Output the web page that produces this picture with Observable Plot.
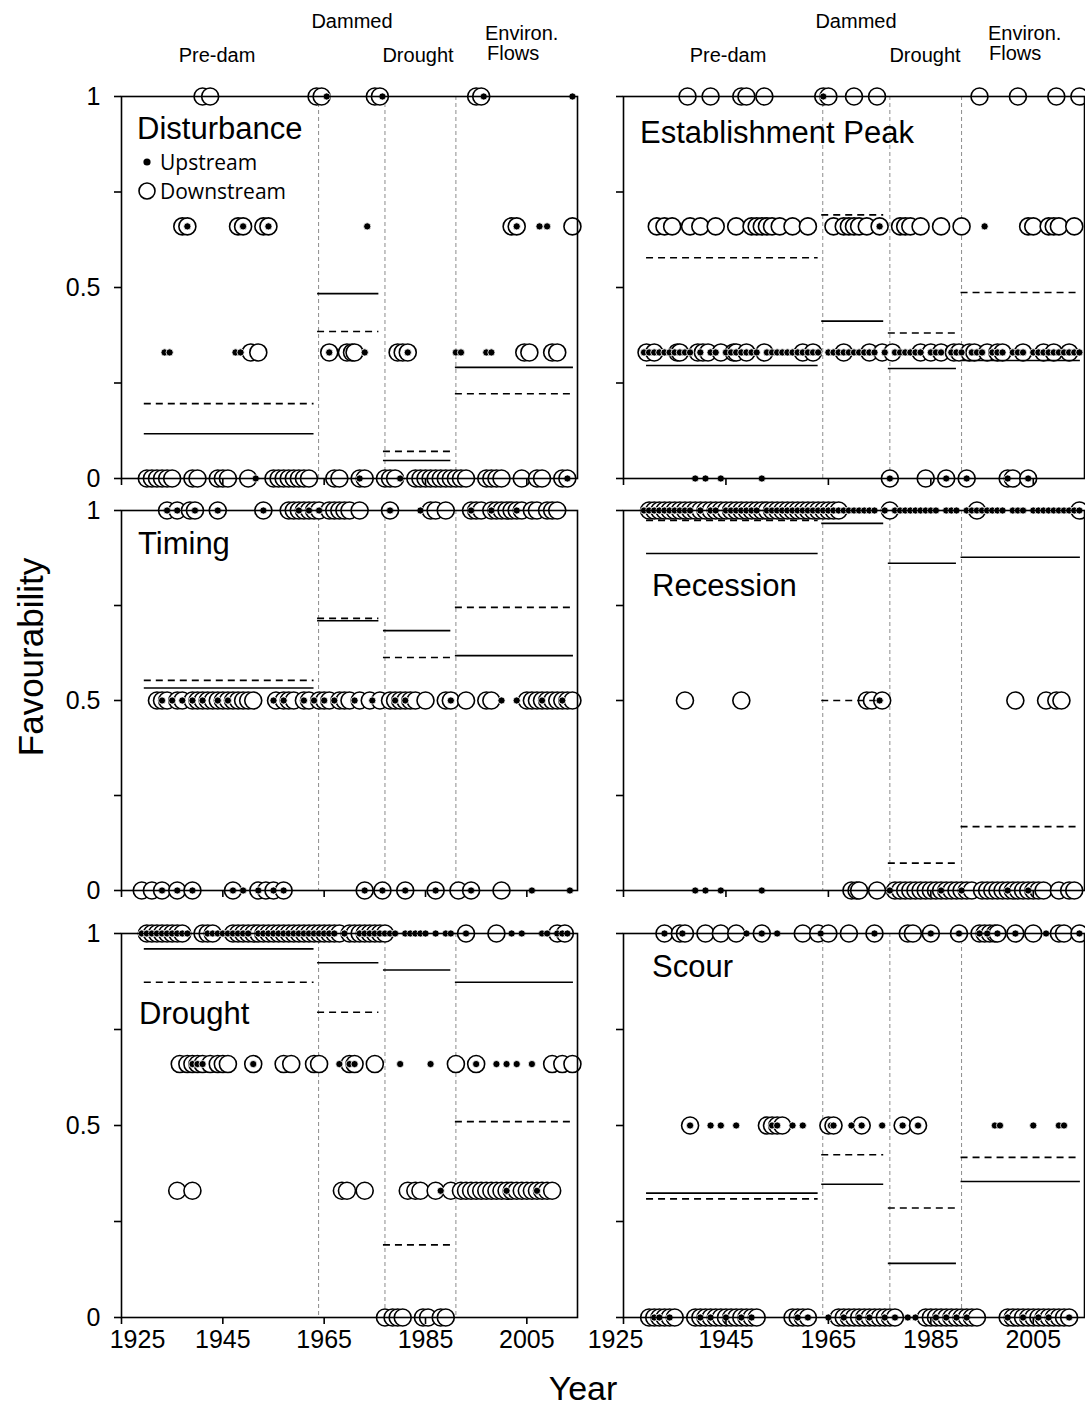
<!DOCTYPE html>
<html><head><meta charset="utf-8">
<script src="https://cdn.jsdelivr.net/npm/d3@7"></script>
<script src="https://cdn.jsdelivr.net/npm/@observablehq/plot@0.6"></script>
<style>
body{margin:0;background:#fff;}
#chart{position:relative;width:1085px;height:1407px;font-family:Arial,"Liberation Sans",sans-serif;overflow:hidden;background:#fff;}
.lbl{position:absolute;white-space:nowrap;color:#000;line-height:1;}
.c{transform:translate(-50%,-50%);}
.l{transform:translate(0,-50%);}
</style></head><body><div id="chart"></div>
<script>
// ---------- axes / periods ----------
const xDomain = [1925, 2015];
const xTicks = [1925, 1945, 1965, 1985, 2005];
const yTicks = [0, 0.25, 0.5, 0.75, 1];
const yTickLabels = ["0", "", "0.5", "", "1"];
const boundaries = [1963.9, 1977, 1991];
const periodStart = [1929.5, 1963.7, 1976.7, 1990.9];
const periodEnd = [1963, 1975.8, 1990, 2014.2];

// ---------- Disturbance ----------
const disturbanceDown = [
  [1, [1941, 1942.5, 1963.5, 1964.5, 1975, 1976, 1995, 1996]],
  [0.66, [1937, 1938, 1948, 1949, 1953, 1954, 2002, 2003, 2014]],
  [0.33, [1950.5, 1952, 1966, 1969.5, 1970.5, 1971, 1979.5, 1980.5, 1981.5, 2004.5, 2005.5, 2010, 2011]],
  [0, [1930, 1931, 1932, 1933, 1934, 1935, 1939, 1940, 1944, 1945, 1946, 1950, 1955, 1956, 1957, 1958, 1959, 1960, 1961, 1962, 1967, 1968, 1972, 1973, 1977, 1978, 1979, 1983, 1984, 1985, 1986, 1987, 1988, 1989, 1990, 1991, 1992, 1993, 1997, 1998, 1999, 2000, 2004, 2007, 2008, 2012, 2013]]
];
const disturbanceUp = [
  [1, [1965.5, 1976.5, 1996.5, 2014]],
  [0.66, [1938, 1949, 1954, 1973.5, 2003, 2007.5, 2009]],
  [0.33, [1933.5, 1934.5, 1947.5, 1948.5, 1966, 1973, 1981.5, 1991, 1992, 1997, 1998]],
  [0, [1951.5, 1972, 1980, 2013]]
];
const disturbanceMeanUp = [0.117, 0.484, 0.047, 0.291];
const disturbanceMeanDown = [0.196, 0.385, 0.071, 0.222];

// ---------- Establishment Peak ----------
const establishmentDown = [
  [1, [1937.5, 1942, 1948, 1949, 1952.5, 1964, 1965, 1970, 1974.5, 1994.5, 2002, 2009.5, 2014]],
  [0.66, [1931.5, 1933, 1934.5, 1938, 1940, 1943, 1947, 1950, 1951, 1952, 1953, 1954, 1955.5, 1958, 1961, 1966, 1968, 1969, 1970, 1971, 1972.5, 1975, 1979, 1980, 1981, 1983, 1987, 1991, 2004, 2005, 2008, 2009, 2010, 2013]],
  [0.33, [1929.5, 1931, 1935.5, 1936, 1939.5, 1940.5, 1941.5, 1944, 1946.5, 1947, 1949, 1952.5, 1960, 1962, 1968, 1973, 1975.5, 1977.5, 1983, 1985, 1987, 1989.5, 1990.5, 1992.5, 1993.5, 1996, 1998, 1999, 2003, 2007, 2009, 2012]],
  [0, [1977, 1984, 1988, 1992, 2000, 2001, 2004]]
];
const establishmentUp = [
  [1, [1964]],
  [0.66, [1975, 1995.5]],
  [0.33, [1929, 1930, 1931, 1932, 1933, 1934, 1935, 1936, 1937, 1938, 1940, 1942, 1943, 1945, 1946, 1947, 1948, 1949, 1950, 1951, 1953, 1954, 1955, 1956, 1957, 1958, 1959, 1960, 1961, 1962, 1963, 1965, 1966, 1967, 1968, 1969, 1970, 1971, 1972, 1973, 1974, 1976, 1978, 1979, 1980, 1981, 1982, 1983, 1985, 1986, 1987, 1989, 1990, 1991, 1993, 1994, 1995, 1997, 1998, 1999, 2001, 2002, 2003, 2005, 2006, 2007, 2008, 2009, 2010, 2011, 2012, 2013, 2014]],
  [0, [1939, 1941, 1944, 1952, 1977, 1988, 1992, 2000, 2004]]
];
const establishmentMeanUp = [0.296, 0.412, 0.288, 0.309];
const establishmentMeanDown = [0.578, 0.69, 0.381, 0.487];

// ---------- Timing ----------
const timingDown = [
  [1, [1934, 1936, 1938.5, 1939.5, 1944, 1953, 1958, 1959, 1960, 1961, 1962, 1963, 1964, 1966, 1967, 1968, 1969, 1970, 1972, 1978, 1986, 1987, 1989, 1994, 1995, 1996, 1998, 1999, 2000, 2001, 2002, 2003, 2004, 2006, 2007, 2009, 2010, 2011]],
  [0.5, [1932, 1933, 1934, 1936, 1937, 1939, 1940, 1941, 1942, 1943, 1944, 1945, 1946, 1947, 1948, 1949, 1950, 1951, 1955.5, 1957, 1958, 1959, 1961, 1962, 1964, 1965, 1966, 1968, 1969, 1970, 1972, 1974, 1976, 1978, 1979, 1980, 1981, 1982, 1983, 1985, 1989, 1990, 1993, 1997, 1998, 2005, 2006, 2007, 2008, 2009, 2010, 2011, 2012, 2013, 2014]],
  [0, [1929, 1931, 1933, 1936, 1939, 1947, 1952, 1953.5, 1955, 1957, 1973, 1976.5, 1981, 1987, 1991.5, 1994, 2000]]
];
const timingUp = [
  [1, [1934, 1936, 1939.5, 1944, 1953, 1960, 1962, 1964, 1978, 1984, 1994, 1998, 2003]],
  [0.5, [1933, 1935, 1937, 1939, 1941, 1944, 1946, 1955, 1957, 1961, 1963, 1965, 1967, 1971, 1974.5, 1979, 1981, 1990, 2000, 2003, 2008, 2012]],
  [0, [1933, 1936, 1939, 1947, 1949, 1952, 1955, 1957, 1973, 1976.5, 1981, 1987, 1994, 2006, 2013.5]]
];
const timingMeanUp = [0.533, 0.71, 0.684, 0.618];
const timingMeanDown = [0.553, 0.716, 0.613, 0.745];

// ---------- Recession ----------
const recessionDown = [
  [1, [1930, 1931, 1932, 1933, 1934, 1935, 1936, 1937, 1938, 1939, 1940, 1941, 1942, 1943, 1944, 1945, 1946, 1947, 1948, 1949, 1950, 1951, 1952, 1953, 1954, 1955, 1956, 1957, 1958, 1959, 1960, 1961, 1962, 1963, 1964, 1965, 1966, 1967, 1977, 1994, 2014]],
  [0.5, [1937, 1948, 1972.5, 1973.5, 1975.5, 2001.5, 2007.5, 2009.5, 2010.5]],
  [0, [1969.5, 1970.5, 1971, 1974.5, 1978, 1979, 1980, 1981, 1982, 1983, 1984, 1985, 1986, 1987, 1988, 1989, 1990, 1991, 1992, 1993, 1995, 1996, 1997, 1998, 1999, 2000, 2001, 2002, 2003, 2004, 2005, 2006, 2007, 2010, 2012, 2013]]
];
const recessionUp = [
  [1, [1929, 1930, 1931, 1932, 1933, 1934, 1935, 1936, 1937, 1938, 1940, 1942, 1943, 1945, 1946, 1947, 1948, 1949, 1950, 1951, 1953, 1954, 1955, 1956, 1957, 1958, 1959, 1960, 1961, 1962, 1963, 1964, 1965, 1966, 1967, 1968, 1969, 1970, 1971, 1972, 1973, 1974, 1976, 1978, 1979, 1980, 1981, 1982, 1983, 1984, 1985, 1986, 1988, 1989, 1990, 1992, 1993, 1994, 1995, 1996, 1997, 1998, 1999, 2001, 2002, 2003, 2005, 2006, 2007, 2008, 2009, 2010, 2011, 2012, 2013, 2014]],
  [0.5, [1975]],
  [0, [1939, 1941, 1944, 1952, 1977, 1987, 1991, 2000, 2004]]
];
const recessionMeanUp = [0.887, 0.966, 0.861, 0.877];
const recessionMeanDown = [0.974, 0.5, 0.072, 0.168];

// ---------- Drought ----------
const droughtDown = [
  [1, [1930, 1931, 1932, 1933, 1934, 1935, 1936, 1937, 1941, 1942, 1943, 1947, 1948, 1949, 1950, 1951, 1952, 1953, 1954, 1955, 1956, 1957, 1958, 1959, 1960, 1961, 1962, 1963, 1964, 1965, 1966, 1967, 1968, 1970, 1971, 1972, 1973, 1974, 1975, 1976, 1977, 1993, 1999, 2011, 2012.5]],
  [0.66, [1936.5, 1938, 1939, 1940, 1941, 1942.5, 1944, 1945, 1946, 1951, 1957, 1958.5, 1963, 1964, 1970, 1971, 1975, 1991, 1995, 2010, 2012, 2014]],
  [0.33, [1936, 1939, 1968.5, 1969.5, 1973, 1981.5, 1983, 1984, 1987, 1990, 1992, 1993, 1994, 1995, 1996, 1997, 1998, 1999, 2000, 2001, 2002, 2003, 2004, 2005, 2006, 2007, 2008, 2009, 2010]],
  [0, [1977, 1978.5, 1979.5, 1980.5, 1984.5, 1985.5, 1988, 1989]]
];
const droughtUp = [
  [1, [1929, 1930, 1931, 1932, 1933, 1934, 1935, 1936, 1937, 1938, 1942, 1943, 1944, 1945, 1946, 1947, 1948, 1949, 1950, 1952, 1953, 1954, 1955, 1956, 1957, 1958, 1959, 1960, 1961, 1962, 1963, 1964, 1965, 1966, 1967, 1969, 1972, 1973, 1974, 1975, 1976, 1977, 1978, 1979, 1981, 1982, 1983, 1984, 1985, 1987, 1989, 1990, 1993, 2002, 2004, 2008, 2009, 2011, 2012, 2013]],
  [0.66, [1939, 1940, 1941, 1951, 1968, 1970, 1971, 1980, 1986, 1995, 1999, 2001, 2003, 2006]],
  [0.33, [1988, 2001, 2007]]
];
const droughtMeanUp = [0.96, 0.924, 0.905, 0.873];
const droughtMeanDown = [0.873, 0.795, 0.189, 0.51];

// ---------- Scour ----------
const scourDown = [
  [1, [1933, 1936, 1937, 1941, 1944, 1947, 1952, 1960, 1963, 1965, 1969, 1974, 1980.5, 1981.5, 1985, 1990.5, 1994.5, 1995.5, 1996.5, 1997.5, 1998, 2001.5, 2005, 2010, 2011, 2014]],
  [0.5, [1938, 1953, 1954, 1955, 1956, 1965, 1966, 1971.5, 1979.5, 1982.5]],
  [0, [1930, 1931, 1932, 1933, 1934, 1935, 1939, 1940, 1941, 1942, 1943, 1944, 1945, 1946, 1947, 1948, 1949, 1950, 1951, 1958, 1959, 1960, 1961, 1967, 1968, 1969, 1970, 1971, 1972, 1973, 1974, 1975, 1976, 1977, 1978, 1984, 1985, 1986, 1987, 1988, 1989, 1990, 1991, 1992, 1993, 1994, 2000, 2001, 2002, 2003, 2004, 2005, 2006, 2007, 2008, 2009, 2010, 2011, 2012]]
];
const scourUp = [
  [1, [1933, 1936.5, 1949, 1952, 1955, 1963.5, 1974, 1985, 1990.5, 1994.5, 1996, 1998, 2001.5, 2007.5, 2014]],
  [0.5, [1938, 1942, 1944, 1947, 1954, 1955, 1958, 1960, 1965.5, 1966, 1969.5, 1971.5, 1975.5, 1979.5, 1982.5, 1997.5, 1998.5, 2005, 2010, 2011]],
  [0, [1931, 1932, 1934, 1940, 1942, 1945, 1948, 1950, 1959, 1961, 1965, 1968, 1971, 1973, 1976, 1978, 1980.5, 1982, 1986, 1988, 1990, 1992, 2000, 2003, 2006, 2008, 2012]]
];
const scourMeanUp = [0.324, 0.347, 0.141, 0.354];
const scourMeanDown = [0.309, 0.424, 0.285, 0.417];

// ---------- layout ----------
const panels = [
  {col: 0, row: 0, down: disturbanceDown, up: disturbanceUp, mUp: disturbanceMeanUp, mDown: disturbanceMeanDown},
  {col: 1, row: 0, down: establishmentDown, up: establishmentUp, mUp: establishmentMeanUp, mDown: establishmentMeanDown},
  {col: 0, row: 1, down: timingDown, up: timingUp, mUp: timingMeanUp, mDown: timingMeanDown},
  {col: 1, row: 1, down: recessionDown, up: recessionUp, mUp: recessionMeanUp, mDown: recessionMeanDown},
  {col: 0, row: 2, down: droughtDown, up: droughtUp, mUp: droughtMeanUp, mDown: droughtMeanDown},
  {col: 1, row: 2, down: scourDown, up: scourUp, mUp: scourMeanUp, mDown: scourMeanDown}
];
const rowGeom = [{top: 66, y1: 96, y0: 478}, {top: 480, y1: 510, y0: 890}, {top: 903, y1: 933, y0: 1317}];
const colGeom = [{left: 0, width: 600, mL: 121, mR: 23, firstDx: 16}, {left: 590, width: 495, mL: 33, mR: 1, firstDx: -8}];

const flat = levels => levels.flatMap(([v, ys]) => ys.map(y => ({year: y, value: v})));
const means = vals => vals.map((v, i) => ({value: v, x1: periodStart[i], x2: periodEnd[i]}));
const yearFmt = d => String(d);

const chart = document.getElementById("chart");

for (const p of panels) {
  const r = rowGeom[p.row], c = colGeom[p.col];
  const mT = r.y1 - r.top, mB = 40;
  const H = r.y0 - r.y1 + mT + mB;
  const down = flat(p.down).sort((a, b) => a.year - b.year);
  const up = flat(p.up).sort((a, b) => a.year - b.year);
  const marks = [
    Plot.ruleX(boundaries, {stroke: "#8c8c8c", strokeWidth: 1, strokeDasharray: "4,3"}),
    Plot.dot(down, {x: "year", y: "value", r: 8.5, fill: "white", stroke: "black", strokeWidth: 1.6}),
    Plot.ruleY(means(p.mUp), {y: "value", x1: "x1", x2: "x2", stroke: "black", strokeWidth: 1.6}),
    Plot.ruleY(means(p.mDown), {y: "value", x1: "x1", x2: "x2", stroke: "black", strokeWidth: 1.6, strokeDasharray: "7,5"}),
    Plot.dot(up, {x: "year", y: "value", r: 3.6, fill: "black", stroke: "white", strokeWidth: 0.8}),
    Plot.axisY({ticks: yTicks, tickSize: 7, tickPadding: 14, strokeWidth: 1.6, fontSize: 25, label: null,
      tickFormat: d => p.col === 0 ? yTickLabels[yTicks.indexOf(d)] : ""}),
    Plot.axisX({ticks: xTicks, tickSize: 7, strokeWidth: 1.6, label: null, tickFormat: () => ""}),
    Plot.frame({stroke: "black", strokeWidth: 1.6})
  ];
  if (p.row === 2) {
    marks.push(Plot.axisX({ticks: xTicks.slice(1), tickSize: 0, tickPadding: 13, fontSize: 25, label: null, tickFormat: yearFmt}));
    marks.push(Plot.axisX({ticks: xTicks.slice(0, 1), tickSize: 0, tickPadding: 13, fontSize: 25, label: null, tickFormat: yearFmt, dx: c.firstDx}));
  }
  const svg = Plot.plot({
    width: c.width, height: H,
    marginLeft: c.mL, marginRight: c.mR, marginTop: mT, marginBottom: mB,
    x: {domain: xDomain, label: null},
    y: {domain: [0, 1], label: null},
    style: {background: "transparent", overflow: "visible", fontFamily: "Arial, 'Liberation Sans', sans-serif", color: "black"},
    marks
  });
  svg.style.position = "absolute";
  svg.style.left = c.left + "px";
  svg.style.top = r.top + "px";
  chart.appendChild(svg);
}

// ---------- text ----------
function label(text, x, y, size, cls, extra) {
  const d = document.createElement("div");
  d.className = "lbl " + cls;
  d.style.left = x + "px";
  d.style.top = y + "px";
  d.style.fontSize = size + "px";
  if (extra) Object.assign(d.style, extra);
  d.innerHTML = text;
  chart.appendChild(d);
  return d;
}
// period labels
const periodLabelPos = [
  [["Pre-dam", 217, 55], ["Dammed", 352, 21], ["Drought", 418, 55]],
  [["Pre-dam", 728, 55], ["Dammed", 856, 21], ["Drought", 925, 55]]
];
for (const set of periodLabelPos) for (const [t, x, y] of set) label(t, x, y, 20, "c");
label("Environ.", 485, 33, 20, "l");
label("Flows", 487, 53, 20, "l");
label("Environ.", 988, 33, 20, "l");
label("Flows", 989, 53, 20, "l");

// panel titles
const titles = [["Disturbance", 137, 128], ["Establishment Peak", 640, 132], ["Timing", 138, 543],
  ["Recession", 652, 585], ["Drought", 139, 1013], ["Scour", 652, 966]];
for (const [t, x, y] of titles) label(t, x, y, 31, "l");

// legend
const lg = (y, html, txt) => {
  label(html, 147, y, 20, "c");
  label(txt, 160, y, 21, "l", {fontFamily: "'Open Sans', sans-serif"});
};
lg(162, '<svg width="10" height="10" style="display:block"><circle cx="5" cy="5" r="3.6" fill="black"/></svg>', "Upstream");
lg(191, '<svg width="20" height="20" style="display:block"><circle cx="10" cy="10" r="8" fill="white" stroke="black" stroke-width="1.6"/></svg>', "Downstream");

// axis titles
label("Favourability", 30, 657, 35, "c", {transform: "translate(-50%,-50%) rotate(-90deg)"});
label("Year", 583, 1388, 34, "c");
</script></body></html>
